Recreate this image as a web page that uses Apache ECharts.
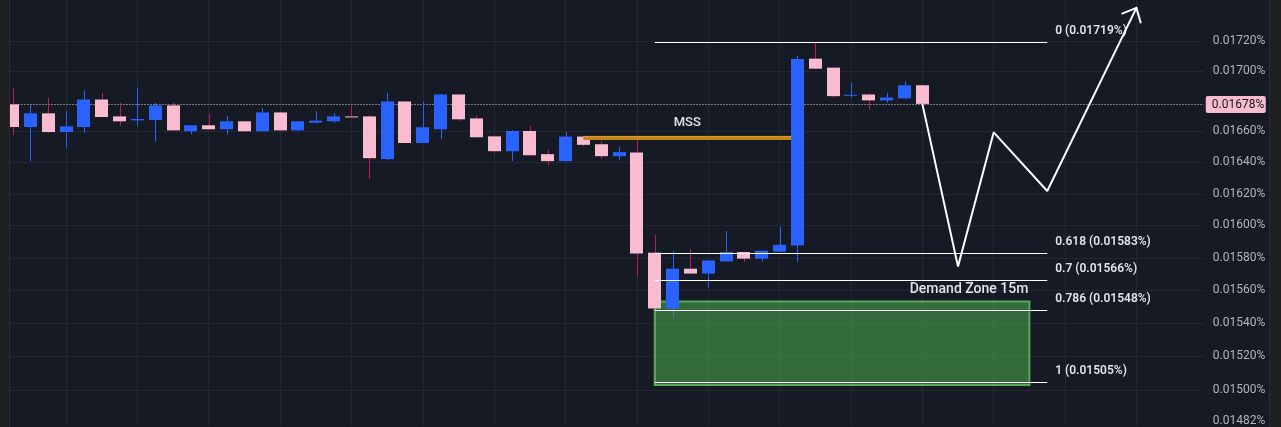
<!DOCTYPE html>
<html><head><meta charset="utf-8">
<script src="https://cdn.jsdelivr.net/npm/echarts@6/dist/echarts.min.js"></script>
<style>html,body{margin:0;padding:0;background:#161a25;overflow:hidden}#c{width:1281px;height:427px}</style>
</head><body><div id="c"></div>
<script>
// ---- data (values in %) ----
const slotCount = 68;
const categories = Array.from({length: slotCount}, (_, i) => 'c' + i);
const opens  = [0.016777,0.016629,0.016718,0.016596,0.016629,0.016809,0.016698,0.016672,0.016674,0.016770,
                0.016601,0.016640,0.016614,0.016666,0.016601,0.016724,0.016607,0.016657,0.016666,0.016698,
                0.016698,0.016421,0.016796,0.016525,0.016614,0.016842,0.016685,0.016568,0.016472,0.016603,
                0.016453,0.016408,0.016567,0.016517,0.016440,0.016464,0.015830,0.015488,0.015731,0.015701,
                0.015776,0.015834,0.015793,0.015836,0.015875,0.017080,0.017020,0.016836,0.016842,0.016803,
                0.016816,0.016903];
const highs  = [0.016880,0.016770,0.016820,0.016731,0.016870,0.016853,0.016788,0.016888,0.016788,0.016788,
                0.016641,0.016716,0.016700,0.016670,0.016752,0.016726,0.016668,0.016731,0.016720,0.016770,
                0.016705,0.016853,0.016798,0.016796,0.016845,0.016845,0.016705,0.016575,0.016609,0.016635,
                0.016480,0.016596,0.016570,0.016536,0.016500,0.016549,0.015943,0.015840,0.015855,0.015784,
                0.015964,0.015836,0.015845,0.015991,0.017100,0.017190,0.017022,0.016919,0.016849,0.016853,
                0.016930,0.016905];
const lows   = [0.016577,0.016406,0.016591,0.016496,0.016592,0.016692,0.016635,0.016635,0.016532,0.016605,
                0.016579,0.016613,0.016579,0.016596,0.016600,0.016605,0.016600,0.016653,0.016657,0.016692,
                0.016293,0.016414,0.016523,0.016523,0.016549,0.016668,0.016560,0.016461,0.016408,0.016440,
                0.016382,0.016407,0.016506,0.016421,0.016414,0.015680,0.015050,0.015436,0.015700,0.015615,
                0.015774,0.015770,0.015776,0.015835,0.015772,0.017012,0.016822,0.016822,0.016744,0.016788,
                0.016814,0.016779];
const closes = [0.016629,0.016718,0.016596,0.016633,0.016809,0.016694,0.016666,0.016681,0.016770,0.016607,
                0.016640,0.016614,0.016666,0.016601,0.016724,0.016607,0.016666,0.016670,0.016698,0.016693,
                0.016427,0.016796,0.016525,0.016627,0.016842,0.016679,0.016562,0.016472,0.016603,0.016446,
                0.016408,0.016567,0.016513,0.016440,0.016466,0.015825,0.015488,0.015731,0.015701,0.015782,
                0.015834,0.015793,0.015842,0.015879,0.017078,0.017013,0.016831,0.016840,0.016803,0.016822,
                0.016903,0.016780];
const yTickLabels = [0.01720,0.01700,0.01660,0.01640,0.01620,0.01600,0.01580,0.01560,0.01540,0.01520,0.01500,0.01482];
const gridLevels  = [0.01720,0.01700,0.01660,0.01640,0.01620,0.01600,0.01580,0.01560,0.01540,0.01520,0.01500];
const yRange = [0.014797, 0.017477];
const lastPrice = 0.01678;
const fibLevels = ['0','0.618','0.7','0.786','1'];
const fibPrices = [0.01719,0.01583,0.01566,0.01548,0.01505];
const fibSpan = [36, 58];
const zoneSpan = [36, 57];
const zonePrices = [0.01553, 0.01503];
const zoneLabel = 'Demand Zone 15m';
const mssSpan = [32, 44];
const mssPrice = 0.016558;
const mssLabel = 'MSS';
const pathX = [51, 53, 55, 58, 63];
const pathY = [0.01678, 0.015744, 0.016594, 0.016217, 0.017423];

// ---- build ----
const L = Math.log;
const TXT = '#e1e3ea';
const candleData = opens.map((o, i) => [i, L(o), L(closes[i]), L(lows[i]), L(highs[i])]);

function bodyRender(params, api) {
  const i = api.value(0), o = api.value(1), c = api.value(2);
  const po = api.coord([i, o]), pc = api.coord([i, c]);
  const w = Math.round(api.size([1, 0])[0] * 0.71);
  const top = Math.min(po[1], pc[1]);
  const h = Math.max(1, Math.abs(po[1] - pc[1]));
  return {type: 'rect', shape: {x: Math.round(po[0] - w / 2), y: top, width: w, height: h},
          style: {fill: c >= o ? '#2962ff' : '#f8bbd0'}};
}
function wickRender(params, api) {
  const i = api.value(0), o = api.value(1), c = api.value(2);
  const pl = api.coord([i, api.value(3)]), ph = api.coord([i, api.value(4)]);
  const x = Math.round(pl[0]) + 0.5;
  return {type: 'line', shape: {x1: x, y1: ph[1], x2: x, y2: pl[1]},
          style: {stroke: c >= o ? '#2962ff' : '#c2185b', lineWidth: 1}};
}
function gridRender(params, api) {
  const cs = params.coordSys;
  const y = Math.round(api.coord([0, api.value(0)])[1]) + 0.5;
  return {type: 'line', shape: {x1: cs.x - 3, y1: y, x2: cs.x + cs.width - 4, y2: y},
          style: {stroke: '#232733', lineWidth: 1}};
}
function priceRender(params, api) {
  const cs = params.coordSys;
  const y = Math.round(api.coord([0, api.value(0)])[1]) + 0.5;
  const xr = cs.x + cs.width;
  return {type: 'group', children: [
    {type: 'line', shape: {x1: cs.x - 3, y1: y, x2: xr - 4, y2: y},
     style: {stroke: '#d0d2d8', lineWidth: 1, lineDash: [1, 2]}},
    {type: 'rect', shape: {x: xr - 2, y: y - 8.5, width: 60, height: 17, r: 2}, style: {fill: '#f8bbd0'}},
    {type: 'text', x: xr + 4, y: y, style: {text: lastPrice.toFixed(5) + '%', fill: '#131722',
      font: '12px Roboto', verticalAlign: 'middle', align: 'left'}}
  ]};
}
function fibRender(params, api) {
  const k = api.value(3);
  const p0 = api.coord([api.value(0), api.value(2)]), p1 = api.coord([api.value(1), api.value(2)]);
  const y = Math.round(p0[1]) + 0.5;
  return {type: 'group', children: [
    {type: 'line', shape: {x1: p0[0], y1: y, x2: p1[0], y2: y}, style: {stroke: '#ffffff', lineWidth: 1}},
    {type: 'text', x: p1[0] + 8, y: y - 12, style: {text: fibLevels[k] + ' (' + fibPrices[k].toFixed(5) + '%)',
      fill: TXT, font: '600 12px Roboto', verticalAlign: 'middle', align: 'left'}}
  ]};
}
function zoneRender(params, api) {
  const a = api.coord([api.value(0), api.value(2)]), b = api.coord([api.value(1), api.value(3)]);
  return {type: 'group', children: [
    {type: 'rect', shape: {x: a[0], y: a[1], width: b[0] - a[0], height: b[1] - a[1]},
     style: {fill: 'rgba(76,175,80,0.55)', stroke: '#5ba55e', lineWidth: 2}},
    {type: 'text', x: b[0] - 1, y: a[1] - 12, style: {text: zoneLabel, fill: TXT,
      font: '500 14px Roboto', verticalAlign: 'middle', align: 'right'}}
  ]};
}
function mssRender(params, api) {
  const a = api.coord([api.value(0), api.value(2)]), b = api.coord([api.value(1), api.value(2)]);
  const x1 = b[0] - api.size([1, 0])[0] * 0.36;
  return {type: 'group', children: [
    {type: 'rect', shape: {x: a[0], y: a[1] - 2, width: x1 - a[0], height: 4}, style: {fill: '#c4861c'}},
    {type: 'line', shape: {x1: a[0], y1: a[1] - 1.5, x2: x1, y2: a[1] - 1.5}, style: {stroke: '#e09a30', lineWidth: 1}},
    {type: 'text', x: (a[0] + x1) / 2, y: a[1] - 15, style: {text: mssLabel, fill: TXT,
      font: '500 13px Roboto', verticalAlign: 'middle', align: 'center'}}
  ]};
}
function arrowRender(params, api) {
  const n = pathX.length;
  const tip = api.coord([pathX[n - 1], L(pathY[n - 1])]);
  const prev = api.coord([pathX[n - 2], L(pathY[n - 2])]);
  const ang = Math.atan2(prev[1] - tip[1], prev[0] - tip[0]);
  const len = 16, spread = 42 * Math.PI / 180;
  const pA = [tip[0] + len * Math.cos(ang + spread), tip[1] + len * Math.sin(ang + spread)];
  const pB = [tip[0] + len * Math.cos(ang - spread), tip[1] + len * Math.sin(ang - spread)];
  return {type: 'polyline', shape: {points: [pA, tip, pB]},
          style: {stroke: '#ffffff', lineWidth: 2, fill: null, lineJoin: 'miter'}};
}

const chart = echarts.init(document.getElementById('c'), null, {renderer: 'canvas'});
chart.setOption({
  animation: false,
  backgroundColor: '#161a25',
  grid: {left: 12.5, top: 0, width: 17.84 * (slotCount - 1), height: 427, containLabel: false},
  xAxis: {type: 'category', data: categories, boundaryGap: false,
    axisLine: {show: false}, axisTick: {show: false}, axisLabel: {show: false},
    splitLine: {show: true, interval: (i) => i % 4 === 3 && i < slotCount - 1, lineStyle: {color: '#232733', width: 1}}},
  yAxis: {type: 'value', position: 'right', min: L(yRange[0]), max: L(yRange[1]), scale: true,
    axisLine: {show: false}, axisTick: {show: false, customValues: yTickLabels.map(L)}, splitLine: {show: false},
    axisLabel: {show: true, customValues: yTickLabels.map(L), margin: 5, color: '#b2b5be',
      fontFamily: 'Roboto', fontSize: 12, formatter: (v) => Math.exp(v).toFixed(5) + '%'}},
  series: [
    {type: 'custom', name: 'grid', z: 1, silent: true, renderItem: gridRender,
     data: gridLevels.map(p => [L(p)]), encode: {y: 0}},
    {type: 'custom', name: 'price', z: 2, silent: true, renderItem: priceRender,
     data: [[L(lastPrice)]], encode: {y: 0}},
    {type: 'custom', name: 'wicks', z: 3, silent: true, renderItem: wickRender,
     data: candleData, encode: {x: 0, y: [1, 2, 3, 4]}},
    {type: 'custom', name: 'zone', z: 4, silent: true, renderItem: zoneRender,
     data: [[zoneSpan[0], zoneSpan[1], L(zonePrices[0]), L(zonePrices[1])]], encode: {x: [0, 1], y: [2, 3]}},
    {type: 'custom', name: 'bodies', z: 5, silent: true, renderItem: bodyRender,
     data: candleData, encode: {x: 0, y: [1, 2]}},
    {type: 'custom', name: 'fib', z: 6, silent: true, renderItem: fibRender,
     data: fibPrices.map((p, k) => [fibSpan[0], fibSpan[1], L(p), k]), encode: {x: [0, 1], y: 2}},
    {type: 'custom', name: 'mss', z: 6, silent: true, renderItem: mssRender,
     data: [[mssSpan[0], mssSpan[1], L(mssPrice)]], encode: {x: [0, 1], y: 2}},
    {type: 'line', name: 'path', z: 7, silent: true, symbol: 'none',
     lineStyle: {color: '#ffffff', width: 2}, data: pathX.map((x, i) => [x, L(pathY[i])])},
    {type: 'custom', name: 'arrow', z: 7, silent: true, renderItem: arrowRender,
     data: [[pathX[pathX.length - 1], L(pathY[pathY.length - 1])]], encode: {x: 0, y: 1}}
  ],
  graphic: [
    {type: 'rect', z: 100, shape: {x: 0, y: 0, width: 9, height: 427}, style: {fill: '#201f1f'}},
    {type: 'rect', z: 100, shape: {x: 9, y: 0, width: 1, height: 427}, style: {fill: '#2b2d36'}},
    {type: 'rect', z: 100, shape: {x: 1270, y: 0, width: 11, height: 427}, style: {fill: '#201f1f'}},
    {type: 'rect', z: 100, shape: {x: 1269, y: 0, width: 1, height: 427}, style: {fill: '#2b2d36'}}
  ]
});
</script></body></html>
